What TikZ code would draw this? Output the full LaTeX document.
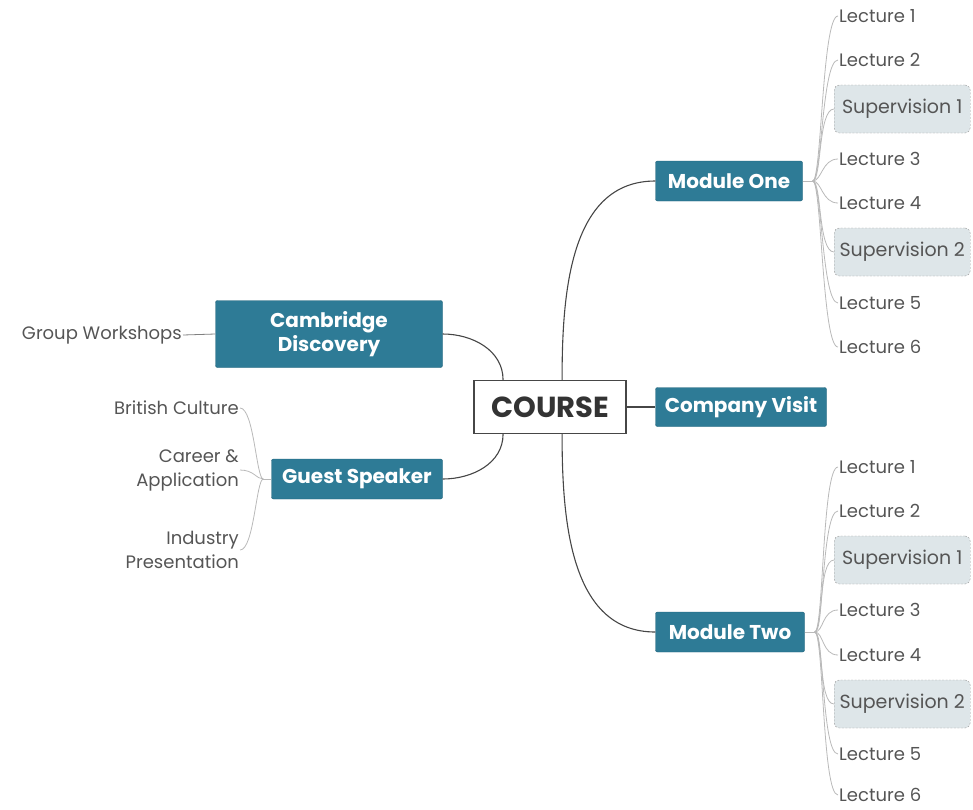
\documentclass[tikz,border=0pt]{standalone}
\usepackage{fontspec}
\setmainfont{Poppins}
\usetikzlibrary{calc}

\definecolor{topicfill}{RGB}{46,123,150}
\definecolor{topicedge}{RGB}{30,96,120}
\definecolor{subfill}{RGB}{222,230,233}
\definecolor{leaftext}{RGB}{85,85,85}
\definecolor{linkgray}{RGB}{70,70,70}
\definecolor{leafline}{RGB}{185,185,185}

\tikzset{
  root/.style={draw=linkgray, line width=1.2pt, fill=white, text=black!80,
    font=\fontsize{29}{33}\selectfont\bfseries, minimum width=152pt, minimum height=53pt},
  topic/.style={draw=topicedge, fill=topicfill, rounded corners=2pt, text=white,
    font=\fontsize{20}{24}\selectfont\bfseries, align=center, minimum height=40pt},
  leaf/.style={text=leaftext, font=\fontsize{18}{24}\selectfont, inner sep=1pt},
  sup/.style={leaf, font=\fontsize{19}{24}\selectfont, draw=gray!80,
    dash pattern=on 2pt off 1.5pt, fill=subfill, rounded corners=5pt,
    minimum width=136pt, minimum height=48pt, anchor=west},
  main/.style={draw=linkgray, line width=1.1pt},
  twig/.style={draw=leafline, line width=0.8pt}
}

\begin{document}
\begin{tikzpicture}[x=1pt,y=1pt]
\useasboundingbox (0,0) rectangle (973,-809);

\def\twigR#1#2{\draw[twig] (#1) .. controls +(9,0) and +(-16,0) .. (#2.west);}
\def\twigL#1#2{\draw[twig] (#1) .. controls +(-7,0) and +(14,0) .. (#2.east);}

\node[root] (course) at (550,-407) {COURSE};

\node[topic, minimum width=147pt] (mod1) at (729,-181) {Module One};
\node[topic, minimum width=171pt, minimum height=39pt] (visit) at (741,-407) {Company Visit};
\node[topic, minimum width=149pt] (mod2) at (730,-632) {Module Two};
\node[topic, minimum width=227pt, minimum height=67pt] (cam) at (329,-334) {Cambridge\\Discovery};
\node[topic, minimum width=171pt] (guest) at (357,-479) {Guest Speaker};

\draw[main] (course.66) to[out=90,in=180] (mod1.west);
\draw[main] (course.-66) to[out=-90,in=180] (mod2.west);
\draw[main] (course.east) -- (visit.west);
\draw[main] (cam.east) to[out=0,in=90] (course.150);
\draw[main] (guest.east) to[out=0,in=-90] (course.210);

% module one
\coordinate (j1) at ($(mod1.east)+(10,0)$);
\draw[twig] (mod1.east) -- (j1);
\node[leaf, anchor=west] (a1) at (838,-16) {Lecture 1};
\node[leaf, anchor=west] (a2) at (838,-60) {Lecture 2};
\node[sup] (a3) at (834,-109) {Supervision 1};
\node[leaf, anchor=west] (a4) at (838,-159) {Lecture 3};
\node[leaf, anchor=west] (a5) at (838,-203) {Lecture 4};
\node[sup] (a6) at (834,-252) {Supervision 2};
\node[leaf, anchor=west] (a7) at (838,-303) {Lecture 5};
\node[leaf, anchor=west] (a8) at (838,-347) {Lecture 6};
\twigR{j1}{a1} \twigR{j1}{a2} \twigR{j1}{a3} \twigR{j1}{a4}
\twigR{j1}{a5} \twigR{j1}{a6} \twigR{j1}{a7} \twigR{j1}{a8}

% module two
\coordinate (j2) at ($(mod2.east)+(10,0)$);
\draw[twig] (mod2.east) -- (j2);
\node[leaf, anchor=west] (b1) at (838,-467) {Lecture 1};
\node[leaf, anchor=west] (b2) at (838,-511) {Lecture 2};
\node[sup] (b3) at (834,-560) {Supervision 1};
\node[leaf, anchor=west] (b4) at (838,-610) {Lecture 3};
\node[leaf, anchor=west] (b5) at (838,-655) {Lecture 4};
\node[sup] (b6) at (834,-704) {Supervision 2};
\node[leaf, anchor=west] (b7) at (838,-754) {Lecture 5};
\node[leaf, anchor=west] (b8) at (838,-795) {Lecture 6};
\twigR{j2}{b1} \twigR{j2}{b2} \twigR{j2}{b3} \twigR{j2}{b4}
\twigR{j2}{b5} \twigR{j2}{b6} \twigR{j2}{b7} \twigR{j2}{b8}

% left side
\node[leaf, anchor=east] (grp) at (183,-335) {Group Workshops};
\draw[twig, draw=gray] (cam.west) -- (grp.east);

\coordinate (j3) at ($(guest.west)+(-8,0)$);
\draw[twig] (guest.west) -- (j3);
\node[leaf, anchor=east] (c1) at (240,-408) {British Culture};
\node[leaf, anchor=east, align=right] (c2) at (240,-470) {Career \&\\Application};
\node[leaf, anchor=east, align=right] (c3) at (240,-550) {Industry\\Presentation};
\twigL{j3}{c1} \twigL{j3}{c2} \twigL{j3}{c3}

\end{tikzpicture}
\end{document}
